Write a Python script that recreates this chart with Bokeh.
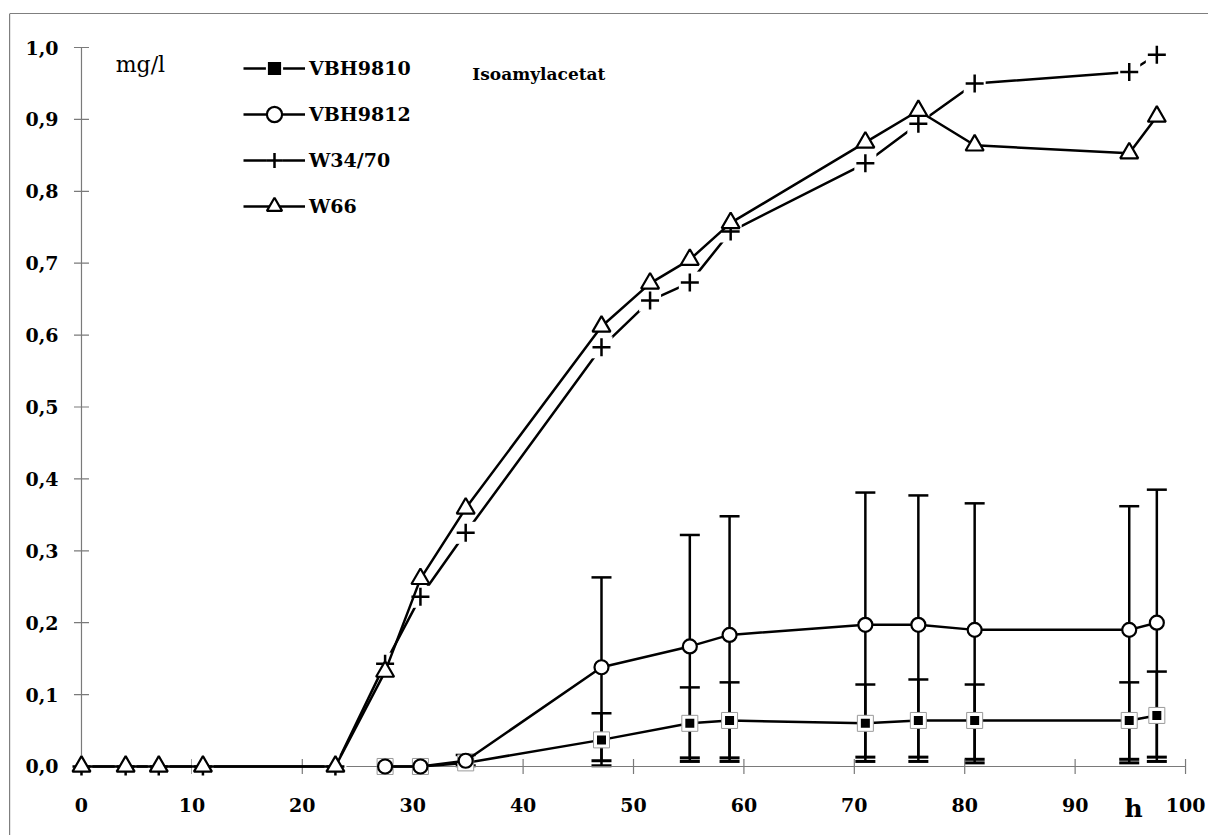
import numpy as np
from bokeh.plotting import figure
from bokeh.models import (ColumnDataSource, Range1d, Whisker, TeeHead, Legend,
                          LegendItem, Label, Span)
from bokeh.core.properties import value
from bokeh.embed import file_html
from bokeh.resources import INLINE

# ---------------- data ----------------
x_ticks = [0, 10, 20, 30, 40, 50, 60, 70, 80, 90, 100]
x_tick_labels = ["0", "10", "20", "30", "40", "50", "60", "70", "80", "90", "100"]
y_ticks = [0.0, 0.1, 0.2, 0.3, 0.4, 0.5, 0.6, 0.7, 0.8, 0.9, 1.0]
y_tick_labels = ["0,0", "0,1", "0,2", "0,3", "0,4", "0,5", "0,6", "0,7", "0,8", "0,9", "1,0"]

hours_w = [0, 4, 7, 11, 23, 27.5, 30.7, 34.8, 47.1, 51.5, 55.1, 58.8, 71.0, 75.8, 80.9, 94.9, 97.4]
w66 = [0, 0, 0, 0, 0, 0.132, 0.261, 0.359, 0.612, 0.672, 0.705, 0.756, 0.868, 0.912, 0.864, 0.853, 0.904]
w34_70 = [0, 0, 0, 0, 0, 0.143, 0.236, 0.325, 0.583, 0.648, 0.673, 0.744, 0.839, 0.894, 0.950, 0.966, 0.990]

hours_v = [27.5, 30.7, 34.8, 47.1, 55.1, 58.7, 71.0, 75.8, 80.9, 94.9, 97.4]
vbh9810 = [0, 0, 0.005, 0.037, 0.060, 0.064, 0.060, 0.064, 0.064, 0.064, 0.071]
vbh9810_hi = [np.nan, np.nan, np.nan, 0.074, 0.110, 0.117, 0.114, 0.121, 0.114, 0.117, 0.132]
vbh9810_lo = [np.nan, np.nan, np.nan, 0.001, 0.007, 0.007, 0.007, 0.007, 0.005, 0.005, 0.007]
vbh9812 = [0, 0, 0.008, 0.138, 0.167, 0.183, 0.197, 0.197, 0.190, 0.190, 0.200]
vbh9812_hi = [np.nan, np.nan, 0.016, 0.263, 0.322, 0.348, 0.381, 0.377, 0.366, 0.362, 0.385]
vbh9812_lo = [np.nan, np.nan, 0.001, 0.008, 0.012, 0.012, 0.013, 0.013, 0.010, 0.010, 0.013]

# ---------------- figure ----------------
FONT = "DejaVu Serif"
p = figure(width=1208, height=835, output_backend="svg", toolbar_location=None,
           x_axis_location=None, y_axis_location=None,
           x_range=Range1d(-6.52, 102.08), y_range=Range1d(-0.0960, 1.0473),
           min_border_left=9, min_border_top=13, min_border_right=0, min_border_bottom=0)
p.xgrid.visible = False
p.ygrid.visible = False
p.outline_line_color = None
p.background_fill_color = "white"
p.border_fill_color = "white"

# outer frame (top and left)
p.add_layout(Span(location=p.y_range.end, dimension="width", line_color="black", line_width=1.2))
p.add_layout(Span(location=p.x_range.start, dimension="height", line_color="black", line_width=1.2))

# ---------------- manual axes ----------------
AX = "#7a7a7a"
p.line(x=[0, 0], y=[y_ticks[0], y_ticks[-1]], line_color=AX, line_width=1.2)
p.line(x=[x_ticks[0], x_ticks[-1]], y=[0, 0], line_color=AX, line_width=1.2)
p.scatter(x=[0] * len(y_ticks), y=y_ticks, marker="dash", size=15, line_color=AX, line_width=1.2)
p.scatter(x=x_ticks, y=[0] * len(x_ticks), marker="dash", angle=np.pi / 2, size=15,
          line_color=AX, line_width=1.2)
p.text(x=[0] * len(y_ticks), y=y_ticks, text=y_tick_labels, x_offset=-23,
       text_align="right", text_baseline="middle", text_font=value(FONT),
       text_font_size="19px", text_font_style="bold", text_color="black")
p.text(x=x_ticks, y=[0] * len(x_ticks), text=x_tick_labels, y_offset=39,
       text_align="center", text_baseline="middle", text_font=value(FONT),
       text_font_size="19px", text_font_style="bold", text_color="black")

# ---------------- error bars ----------------
def err_source(xs, hi, lo):
    xs = np.asarray(xs, float); hi = np.asarray(hi, float); lo = np.asarray(lo, float)
    m = np.isfinite(hi) & np.isfinite(lo)
    return ColumnDataSource(dict(x=xs[m], hi=hi[m], lo=lo[m]))

for xs, hi, lo in [(hours_v, vbh9812_hi, vbh9812_lo), (hours_v, vbh9810_hi, vbh9810_lo)]:
    w = Whisker(base="x", upper="hi", lower="lo", source=err_source(xs, hi, lo),
                line_width=2.5, line_color="black", level="underlay",
                upper_head=TeeHead(size=20, line_width=2.5, line_color="black"),
                lower_head=TeeHead(size=20, line_width=3, line_color="black"))
    p.add_layout(w)

LW = 2.5
# VBH9810
l1 = p.line(hours_v, vbh9810, line_color="black", line_width=LW)
m1a = p.scatter(hours_v, vbh9810, marker="square", size=16, fill_color="white",
                line_color="#9a9a9a", line_width=1)
m1b = p.scatter(hours_v, vbh9810, marker="square", size=11, fill_color="black",
                line_color="white", line_width=2)
# VBH9812
l2 = p.line(hours_v, vbh9812, line_color="black", line_width=LW)
m2 = p.scatter(hours_v, vbh9812, marker="circle", size=14, fill_color="white",
               line_color="black", line_width=2.2)
# W34/70
l3 = p.line(hours_w, w34_70, line_color="black", line_width=LW)
m3a = p.scatter(hours_w, w34_70, marker="square", size=22, fill_color="white", line_color=None)
m3b = p.scatter(hours_w, w34_70, marker="cross", size=18, line_color="black", line_width=2.5)
# W66
l4 = p.line(hours_w, w66, line_color="black", line_width=LW)
m4 = p.scatter(hours_w, w66, marker="triangle", size=18, fill_color="white",
               line_color="black", line_width=2.2)

# ---------------- legend ----------------
legend = Legend(items=[
    LegendItem(label="VBH9810", renderers=[l1, m1a, m1b]),
    LegendItem(label="VBH9812", renderers=[l2, m2]),
    LegendItem(label="W34/70", renderers=[l3, m3a, m3b]),
    LegendItem(label="W66", renderers=[l4, m4]),
], location=(234, 610), glyph_width=62, glyph_height=38, spacing=8, padding=0, margin=0,
   label_standoff=4, border_line_color=None, background_fill_alpha=0,
   label_text_font=FONT, label_text_font_size="19px", label_text_font_style="bold",
   label_text_color="black")
p.add_layout(legend)

# ---------------- labels ----------------
p.add_layout(Label(x=3.1, y=0.977, text="mg/l", text_font=FONT, text_font_size="22px",
                   text_baseline="middle", text_align="left", text_color="black"))
p.add_layout(Label(x=35.4, y=0.963, text="Isoamylacetat", text_font=FONT,
                   text_font_size="17px", text_font_style="bold", text_baseline="middle",
                   text_align="left", text_color="black"))
p.add_layout(Label(x=95.3, y=-0.058, text="h", text_font=FONT, text_font_size="25px",
                   text_font_style="bold", text_baseline="middle", text_align="center",
                   text_color="black"))

open("out.html", "w").write(file_html(p, INLINE))
